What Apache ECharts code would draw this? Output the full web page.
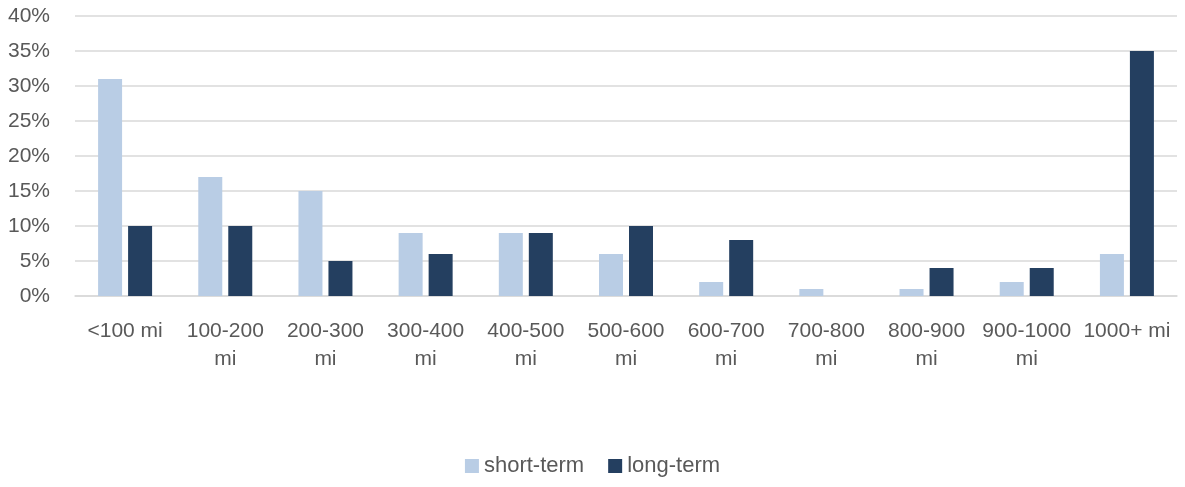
<!DOCTYPE html>
<html>
<head>
<meta charset="utf-8">
<script src="https://cdn.jsdelivr.net/npm/echarts@6/dist/echarts.min.js"></script>
<style>html,body{margin:0;padding:0;background:#fff}#c{width:1185px;height:487px}</style>
</head>
<body>
<div id="c"></div>
<script>
const categories = ['<100 mi','100-200 mi','200-300 mi','300-400 mi','400-500 mi','500-600 mi','600-700 mi','700-800 mi','800-900 mi','900-1000 mi','1000+ mi'];
const shortTerm = [31,17,15,9,9,6,2,1,1,2,6];
const longTerm = [10,10,5,6,9,10,8,0,4,4,35];
const seriesNames = ['short-term','long-term'];

const font = 'Liberation Sans';
const txt = '#595959';
const chart = echarts.init(document.getElementById('c'));
chart.setOption({
  animation: false,
  grid: {left: 75, right: 8, top: 16, bottom: 191},
  legend: {
    bottom: 5, left: 'center', itemWidth: 14, itemHeight: 14, itemGap: 24, icon: 'rect',
    textStyle: {fontFamily: font, fontSize: 22, color: txt},
    data: seriesNames
  },
  xAxis: {
    type: 'category', data: categories,
    axisLine: {lineStyle: {color: '#d9d9d9', width: 1.5}},
    axisTick: {show: false},
    axisLabel: {
      interval: 0, margin: 21, fontFamily: font, fontSize: 21, color: txt, lineHeight: 28,
      formatter: v => v.length > 8 ? v.replace(' ', '\n') : v
    }
  },
  yAxis: {
    type: 'value', min: 0, max: 40, interval: 5,
    axisLabel: {formatter: '{value}%', margin: 25, fontFamily: font, fontSize: 21, color: txt},
    splitLine: {lineStyle: {color: '#d9d9d9', width: 1.5}},
    axisLine: {show: false}, axisTick: {show: false}
  },
  series: [
    {name: seriesNames[0], type: 'bar', data: shortTerm, barWidth: 24, barGap: '25%',
     itemStyle: {color: '#B9CDE5'}},
    {name: seriesNames[1], type: 'bar', data: longTerm, barWidth: 24, barGap: '25%',
     itemStyle: {color: '#243F60'}}
  ]
});
</script>
</body>
</html>
